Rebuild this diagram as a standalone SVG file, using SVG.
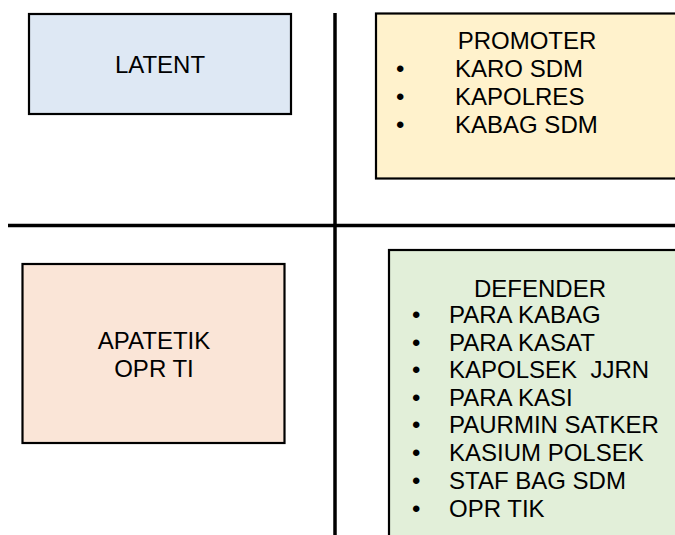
<svg xmlns="http://www.w3.org/2000/svg" width="675" height="535" viewBox="0 0 675 535">
<style>
  .box { stroke: #000; stroke-width: 2.2; }
  .t { font-family: "Liberation Sans", Arial, sans-serif; font-size: 24px; fill: #000; }
  .c { text-anchor: middle; }
  .axis { stroke: #000; stroke-width: 3.5; fill: none; }
</style>
<rect width="675" height="535" fill="#fff"/>
<g id="connectors">
  <line class="axis" x1="335" y1="13" x2="335" y2="535"/>
  <line class="axis" x1="8" y1="225.5" x2="675" y2="225.5"/>
</g>
<g id="latent">
  <rect class="box" x="29" y="14" width="262" height="100" fill="#dee8f4"/>
  <text class="t c" x="160" y="73">LATENT</text>
</g>
<g id="promoter">
  <rect class="box" x="376" y="13.5" width="310" height="165" fill="#fff2cc"/>
  <text class="t c" x="527" y="49">PROMOTER</text>
  <text class="t" x="396" y="77">•</text>
  <text class="t" x="455" y="77">KARO SDM</text>
  <text class="t" x="396" y="105">•</text>
  <text class="t" x="455" y="105">KAPOLRES</text>
  <text class="t" x="396" y="133">•</text>
  <text class="t" x="455" y="133">KABAG SDM</text>
</g>
<g id="apatetik">
  <rect class="box" x="22.5" y="264" width="262" height="179" fill="#fae5d7"/>
  <text class="t c" x="154" y="349">APATETIK</text>
  <text class="t c" x="154" y="377">OPR TI</text>
</g>
<g id="defender">
  <rect class="box" x="389" y="250" width="300" height="300" fill="#e2efd9"/>
  <text class="t c" x="540" y="297">DEFENDER</text>
  <text class="t" x="412" y="323">•</text>
  <text class="t" x="449" y="323">PARA KABAG</text>
  <text class="t" x="412" y="351">•</text>
  <text class="t" x="449" y="351">PARA KASAT</text>
  <text class="t" x="412" y="378">•</text>
  <text class="t" x="449" y="378" xml:space="preserve">KAPOLSEK  JJRN</text>
  <text class="t" x="412" y="406">•</text>
  <text class="t" x="449" y="406">PARA KASI</text>
  <text class="t" x="412" y="433">•</text>
  <text class="t" x="449" y="433">PAURMIN SATKER</text>
  <text class="t" x="412" y="461">•</text>
  <text class="t" x="449" y="461">KASIUM POLSEK</text>
  <text class="t" x="412" y="489">•</text>
  <text class="t" x="449" y="489">STAF BAG SDM</text>
  <text class="t" x="412" y="517">•</text>
  <text class="t" x="449" y="517">OPR TIK</text>
</g>
</svg>
